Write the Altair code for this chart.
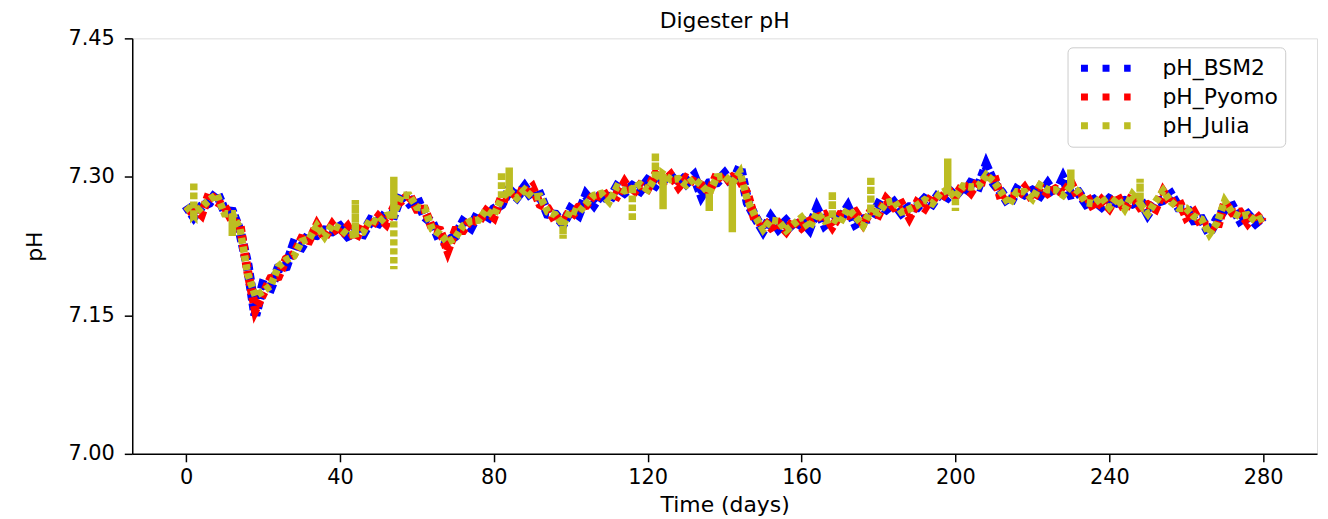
import altair as alt
import pandas as pd

# sampling grid (days)
days = [0, 2, 4, 6, 8, 10, 12, 14, 16, 18, 20, 22, 24, 26, 28, 30, 32, 34, 36, 38,
        40, 42, 44, 46, 48, 50, 52, 54, 56, 58, 60, 62, 64, 66, 68, 70, 72, 74, 76, 78,
        80, 82, 84, 86, 88, 90, 92, 94, 96, 98, 100, 102, 104, 106, 108, 110, 112, 114, 116, 118,
        120, 122, 124, 126, 128, 130, 132, 134, 136, 138, 140, 142, 144, 146, 148, 150, 152, 154, 156, 158,
        160, 162, 164, 166, 168, 170, 172, 174, 176, 178, 180, 182, 184, 186, 188, 190, 192, 194, 196, 198,
        200, 202, 204, 206, 208, 210, 212, 214, 216, 218, 220, 222, 224, 226, 228, 230, 232, 234, 236, 238,
        240, 242, 244, 246, 248, 250, 252, 254, 256, 258, 260, 262, 264, 266, 268, 270, 272, 274, 276, 278, 280]

ph_bsm2 = [7.269, 7.257, 7.268, 7.272, 7.283, 7.263, 7.262, 7.241, 7.204, 7.150,
           7.183, 7.180, 7.201, 7.203, 7.227, 7.224, 7.238, 7.237, 7.242, 7.241,
           7.246, 7.236, 7.240, 7.238, 7.253, 7.250, 7.261, 7.259, 7.282, 7.272,
           7.277, 7.257, 7.250, 7.231, 7.230, 7.236, 7.251, 7.245, 7.261, 7.252,
           7.265, 7.270, 7.286, 7.278, 7.289, 7.277, 7.280, 7.260, 7.259, 7.249,
           7.265, 7.259, 7.280, 7.270, 7.282, 7.274, 7.289, 7.283, 7.290, 7.285,
           7.296, 7.291, 7.302, 7.295, 7.302, 7.293, 7.301, 7.280, 7.293, 7.294,
           7.303, 7.292, 7.311, 7.272, 7.256, 7.242, 7.256, 7.244, 7.252, 7.243,
           7.254, 7.244, 7.265, 7.248, 7.255, 7.254, 7.267, 7.249, 7.254, 7.255,
           7.270, 7.265, 7.272, 7.261, 7.267, 7.267, 7.276, 7.271, 7.283, 7.278,
           7.287, 7.280, 7.293, 7.290, 7.312, 7.293, 7.283, 7.270, 7.286, 7.281,
           7.285, 7.280, 7.292, 7.280, 7.298, 7.281, 7.283, 7.271, 7.275, 7.268,
           7.276, 7.272, 7.274, 7.271, 7.275, 7.260, 7.272, 7.275, 7.281, 7.267,
           7.267, 7.253, 7.254, 7.239, 7.254, 7.265, 7.268, 7.253, 7.259, 7.250, 7.257]

ph_pyomo = [7.262, 7.267, 7.259, 7.282, 7.273, 7.268, 7.252, 7.248, 7.198, 7.156,
            7.173, 7.190, 7.192, 7.211, 7.216, 7.233, 7.231, 7.248, 7.234, 7.248,
            7.237, 7.246, 7.232, 7.249, 7.246, 7.257, 7.249, 7.267, 7.274, 7.281,
            7.265, 7.265, 7.244, 7.242, 7.220, 7.242, 7.242, 7.254, 7.251, 7.263,
            7.256, 7.278, 7.276, 7.285, 7.282, 7.289, 7.270, 7.266, 7.252, 7.260,
            7.256, 7.267, 7.269, 7.281, 7.278, 7.283, 7.279, 7.294, 7.281, 7.291,
            7.287, 7.303, 7.294, 7.302, 7.289, 7.299, 7.295, 7.291, 7.284, 7.303,
            7.294, 7.300, 7.296, 7.281, 7.251, 7.253, 7.245, 7.250, 7.241, 7.253,
            7.245, 7.252, 7.256, 7.259, 7.246, 7.259, 7.258, 7.262, 7.249, 7.263,
            7.259, 7.276, 7.267, 7.271, 7.256, 7.272, 7.266, 7.280, 7.275, 7.286,
            7.279, 7.292, 7.283, 7.296, 7.294, 7.302, 7.274, 7.279, 7.278, 7.288,
            7.275, 7.289, 7.282, 7.287, 7.282, 7.294, 7.277, 7.280, 7.265, 7.275,
            7.266, 7.280, 7.264, 7.280, 7.267, 7.270, 7.265, 7.284, 7.271, 7.275,
            7.256, 7.262, 7.247, 7.248, 7.243, 7.272, 7.261, 7.262, 7.250, 7.260, 7.251]

# Julia output: one sub-list per day of `days`; several values on one day are
# the short excursions (vertical dotted spikes) of the Julia solver
ph_julia_by_day = [
    [7.268], [7.259, 7.294, 7.259], [7.267], [7.275], [7.281], [7.260], [7.260, 7.236, 7.260],
    [7.244], [7.195], [7.171],
    [7.176], [7.182], [7.203], [7.210], [7.214], [7.230], [7.233], [7.247], [7.235], [7.248],
    [7.244], [7.237], [7.238, 7.275, 7.238], [7.240], [7.254], [7.250], [7.258],
    [7.260, 7.300, 7.200, 7.260], [7.280], [7.280],
    [7.267], [7.266], [7.243], [7.238], [7.229], [7.234], [7.247], [7.252], [7.253], [7.264],
    [7.258], [7.277, 7.305, 7.277], [7.285, 7.310, 7.285], [7.277], [7.286], [7.278], [7.279],
    [7.262], [7.259], [7.248, 7.233, 7.248],
    [7.264], [7.261], [7.271], [7.280], [7.282], [7.273], [7.289], [7.285],
    [7.287, 7.252, 7.287], [7.292],
    [7.286], [7.299, 7.326, 7.299], [7.303, 7.265, 7.303], [7.297], [7.298], [7.291], [7.298],
    [7.291], [7.282, 7.263, 7.282], [7.300],
    [7.301], [7.293, 7.240, 7.293], [7.305], [7.274], [7.257], [7.243], [7.253], [7.252],
    [7.242], [7.249],
    [7.256], [7.244], [7.261], [7.252], [7.255, 7.284, 7.255], [7.250], [7.265], [7.257],
    [7.247], [7.264, 7.300, 7.264],
    [7.261], [7.272], [7.274], [7.262], [7.265], [7.269], [7.275], [7.271], [7.282],
    [7.286, 7.320, 7.286],
    [7.278, 7.263, 7.278], [7.290], [7.289], [7.290], [7.302], [7.295], [7.283], [7.270],
    [7.284], [7.284],
    [7.276], [7.291], [7.286], [7.286], [7.280], [7.290, 7.308, 7.290], [7.284], [7.272],
    [7.271], [7.278],
    [7.267], [7.277], [7.265], [7.281], [7.271, 7.298, 7.271], [7.260], [7.273], [7.285],
    [7.273], [7.266],
    [7.266], [7.257], [7.254], [7.238], [7.250], [7.274], [7.261], [7.257], [7.259], [7.252],
    [7.256],
]

series_names = ["pH_BSM2", "pH_Pyomo", "pH_Julia"]
series_colors = ["#0000ff", "#ff0000", "#bcbd22"]
x_ticks = [0, 40, 80, 120, 160, 200, 240, 280]
y_ticks = [7.00, 7.15, 7.30, 7.45]


def frame(t, v, name):
    return pd.DataFrame({"t": t, "pH": v, "series": name, "idx": list(range(len(v)))})


julia_t, julia_v = [], []
for d, vals in zip(days, ph_julia_by_day):
    for v in vals:
        julia_t.append(d)
        julia_v.append(v)

df = pd.concat([frame(days, ph_bsm2, "pH_BSM2"),
                frame(days, ph_pyomo, "pH_Pyomo"),
                frame(julia_t, julia_v, "pH_Julia")], ignore_index=True)

FONT = "DejaVu Sans"

x_enc = alt.X("t:Q",
              scale=alt.Scale(domain=[-14, 294], nice=False, zero=False),
              axis=alt.Axis(values=x_ticks, title="Time (days)", grid=False,
                            labelFontSize=21, titleFontSize=22, labelFont=FONT, titleFont=FONT,
                            labelColor="black", titleColor="black", titleFontWeight="normal",
                            domainColor="black", domainWidth=1.5, tickColor="black",
                            tickWidth=1.5, tickSize=8, labelPadding=5,
                            titleX=596, titleY=51, titleBaseline="middle", titleAlign="center"))
y_enc = alt.Y("pH:Q",
              scale=alt.Scale(domain=[7.0, 7.45], nice=False, zero=False),
              axis=alt.Axis(values=y_ticks, format=".2f", title="pH", grid=False,
                            labelFontSize=21, titleFontSize=22, labelFont=FONT, titleFont=FONT,
                            labelColor="black", titleColor="black", titleFontWeight="normal",
                            domainColor="black", domainWidth=1.5, tickColor="black",
                            tickWidth=1.5, tickSize=8, labelPadding=10,
                            titleX=-98, titleY=209, titleAngle=270,
                            titleBaseline="middle", titleAlign="center"))
color_enc = alt.Color("series:N",
                      scale=alt.Scale(domain=series_names, range=series_colors),
                      legend=alt.Legend(title=None, orient="none", legendX=941, legendY=9,
                                        symbolType="M-0.68,0H3.86", symbolStrokeWidth=7,
                                        symbolDash=[7, 14.7], symbolSize=484,
                                        labelFontSize=22, labelFont=FONT, labelColor="black",
                                        padding=6.5, strokeColor="#cccccc", fillColor="white",
                                        cornerRadius=5, rowPadding=0, labelOffset=60))


def layer(name, width, dash):
    return (alt.Chart(df)
            .transform_filter(alt.datum.series == name)
            .mark_line(strokeWidth=width, strokeDash=dash, clip=True)
            .encode(x=x_enc, y=y_enc, color=color_enc, order="idx:Q"))


chart = alt.layer(
    layer("pH_BSM2", 10, [7, 3]),
    layer("pH_Pyomo", 9, [6, 3]),
    layer("pH_Julia", 7.5, [6, 3]),
).properties(
    width=1192, height=418,
    title=alt.TitleParams("Digester pH", fontSize=22, font=FONT, fontWeight="normal",
                          color="black", anchor="middle", offset=-6),
    autosize=alt.AutoSizeParams(type="none"),
    padding={"left": 125, "top": 29, "right": 3, "bottom": 62},
).configure_view(stroke="black", strokeWidth=1.5).configure(background="white")

chart.save("out.html", embed_options={"renderer": "svg", "actions": False})
